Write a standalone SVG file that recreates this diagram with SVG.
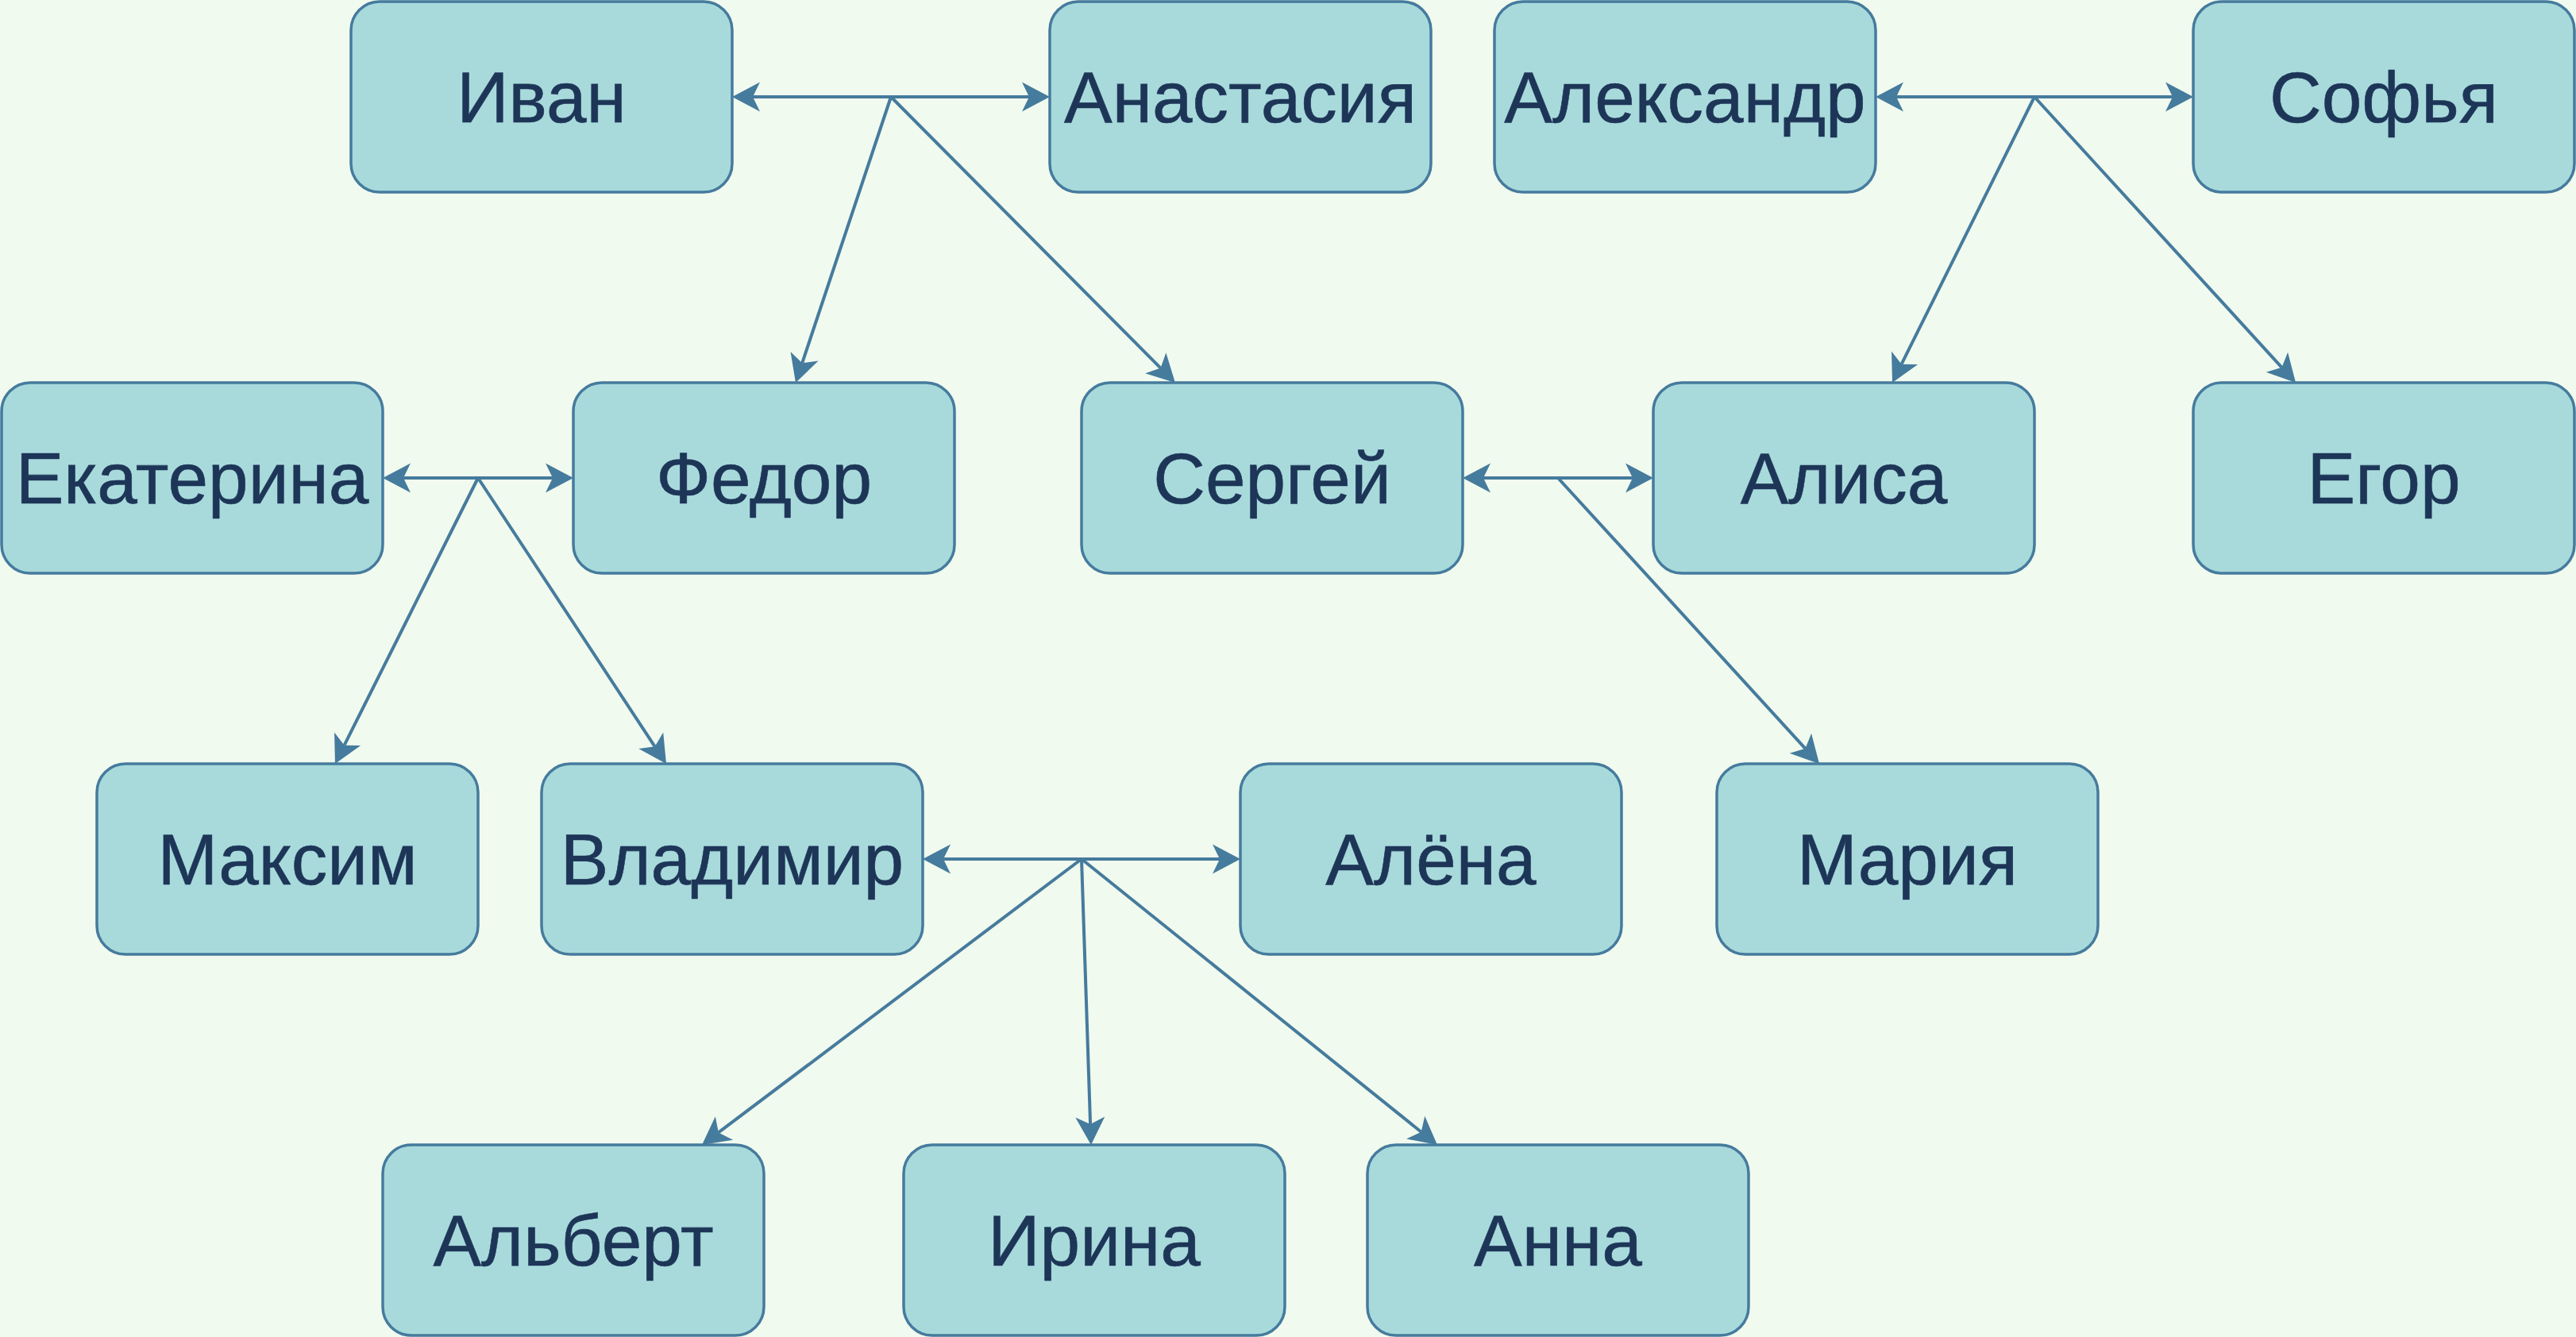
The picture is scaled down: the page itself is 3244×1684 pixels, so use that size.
<svg xmlns="http://www.w3.org/2000/svg" width="3244" height="1684" viewBox="0 0 3244 1684">
<style>
.n rect{fill:#A8DADC;stroke:#457B9D;stroke-width:3.5}
.n text{font-family:"Liberation Sans",Arial,sans-serif;font-size:91px;fill:#1D3557;text-anchor:middle;stroke:#1D3557;stroke-width:0.6}
.e path{fill:none;stroke:#457B9D;stroke-width:4}
</style>
<defs>
<marker id="ar" markerUnits="userSpaceOnUse" viewBox="-12 -22 42 44" markerWidth="42" markerHeight="44" refX="0" refY="0" orient="auto-start-reverse" overflow="visible">
<path d="M26,0 L-9,-18.5 L0,0 L-9,18.5 Z" fill="#457B9D"/>
</marker>
</defs>
<rect width="3244" height="1684" fill="#F1FAEE"/>
<g id="edges" class="e">
<path d="M948,122 H1296" marker-start="url(#ar)" marker-end="url(#ar)"/>
<path d="M2388,122 H2736" marker-start="url(#ar)" marker-end="url(#ar)"/>
<path d="M508,602 H696" marker-start="url(#ar)" marker-end="url(#ar)"/>
<path d="M1868,602 H2056" marker-start="url(#ar)" marker-end="url(#ar)"/>
<path d="M1188,1082 H1536" marker-start="url(#ar)" marker-end="url(#ar)"/>
<path d="M1122,122 L1010.2,457.3" marker-end="url(#ar)"/>
<path d="M1122,122 L1461.6,463.6" marker-end="url(#ar)"/>
<path d="M2562,122 L2394.6,458.7" marker-end="url(#ar)"/>
<path d="M2562,122 L2873.5,462.8" marker-end="url(#ar)"/>
<path d="M602,602 L433.6,938.7" marker-end="url(#ar)"/>
<path d="M602,602 L824.7,940.3" marker-end="url(#ar)"/>
<path d="M1962,602 L2273.5,942.8" marker-end="url(#ar)"/>
<path d="M1362,1082 L904.8,1426.4" marker-end="url(#ar)"/>
<path d="M1362,1082 L1373.1,1416" marker-end="url(#ar)"/>
<path d="M1362,1082 L1789.7,1425.7" marker-end="url(#ar)"/>
</g>
<g id="ivan" class="n"><rect x="442" y="2" width="480" height="240" rx="36"/><text x="682" y="154">Иван</text></g>
<g id="anastasia" class="n"><rect x="1322" y="2" width="480" height="240" rx="36"/><text x="1562" y="154">Анастасия</text></g>
<g id="alexandr" class="n"><rect x="1882" y="2" width="480" height="240" rx="36"/><text x="2122" y="154">Александр</text></g>
<g id="sofya" class="n"><rect x="2762" y="2" width="480" height="240" rx="36"/><text x="3002" y="154">Софья</text></g>
<g id="ekaterina" class="n"><rect x="2" y="482" width="480" height="240" rx="36"/><text x="242" y="634">Екатерина</text></g>
<g id="fedor" class="n"><rect x="722" y="482" width="480" height="240" rx="36"/><text x="962" y="634">Федор</text></g>
<g id="sergey" class="n"><rect x="1362" y="482" width="480" height="240" rx="36"/><text x="1602" y="634">Сергей</text></g>
<g id="alisa" class="n"><rect x="2082" y="482" width="480" height="240" rx="36"/><text x="2322" y="634">Алиса</text></g>
<g id="egor" class="n"><rect x="2762" y="482" width="480" height="240" rx="36"/><text x="3002" y="634">Егор</text></g>
<g id="maksim" class="n"><rect x="122" y="962" width="480" height="240" rx="36"/><text x="362" y="1114">Максим</text></g>
<g id="vladimir" class="n"><rect x="682" y="962" width="480" height="240" rx="36"/><text x="922" y="1114">Владимир</text></g>
<g id="alena" class="n"><rect x="1562" y="962" width="480" height="240" rx="36"/><text x="1802" y="1114">Алёна</text></g>
<g id="maria" class="n"><rect x="2162" y="962" width="480" height="240" rx="36"/><text x="2402" y="1114">Мария</text></g>
<g id="albert" class="n"><rect x="482" y="1442" width="480" height="240" rx="36"/><text x="722" y="1594">Альберт</text></g>
<g id="irina" class="n"><rect x="1138" y="1442" width="480" height="240" rx="36"/><text x="1378" y="1594">Ирина</text></g>
<g id="anna" class="n"><rect x="1722" y="1442" width="480" height="240" rx="36"/><text x="1962" y="1594">Анна</text></g>
</svg>
